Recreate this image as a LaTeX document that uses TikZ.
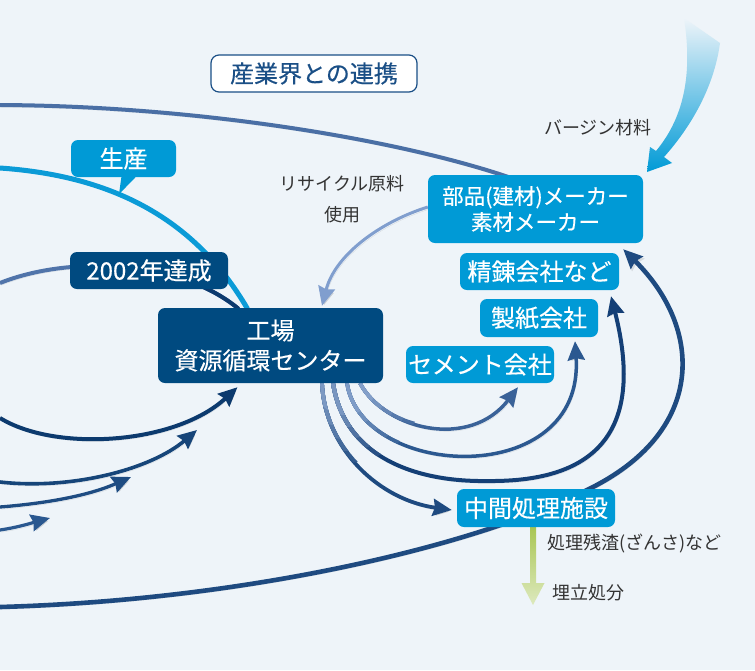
\documentclass[tikz,border=0pt]{standalone}
\usepackage{fontspec}
\setmainfont{Noto Sans CJK JP}
\newfontfamily\bxfont[FakeBold=0.4]{Noto Sans CJK JP}
\usetikzlibrary{arrows.meta,calc}
\pgfdeclarelayer{bg}
\pgfdeclarelayer{lines}
\pgfsetlayers{bg,lines,main}
\definecolor{bgc}{HTML}{EEF4F9}
\definecolor{navyc}{HTML}{004A80}
\definecolor{cyanc}{HTML}{009AD6}
\definecolor{midblue}{HTML}{4A6FA5}
\definecolor{arcblue}{HTML}{5074AA}
\definecolor{lightarr}{HTML}{809ECE}
\definecolor{darkline}{HTML}{0C3A6E}
\definecolor{lineb}{HTML}{164579}
\definecolor{linec}{HTML}{1E4C82}
\definecolor{lined}{HTML}{2A5890}
\definecolor{cemc}{HTML}{3A6298}
\definecolor{seishic}{HTML}{2B5890}
\definecolor{seirenc}{HTML}{143F76}
\definecolor{loopc}{HTML}{1E4A80}
\definecolor{palearc}{HTML}{9BB3D9}
\definecolor{txtc}{HTML}{333333}
\definecolor{linkc}{HTML}{1A4F86}
\definecolor{cyanline}{HTML}{0B9BD7}
\definecolor{greena}{HTML}{A9C653}
\definecolor{greenb}{HTML}{DDE9BE}
\begin{document}
\begin{tikzpicture}[x=1pt,y=-1pt,
  box/.style={rounded corners=7pt, text=white, align=center, inner sep=0pt, font=\bxfont\fontsize{24}{30}\selectfont},
  cbox/.style={box, fill=cyanc},
  nbox/.style={box, fill=navyc},
  lbl/.style={text=txtc, font=\fontsize{18}{31}\selectfont, inner sep=0pt, align=center},
  shd/.style={preaction={draw=black, opacity=0.10, transform canvas={shift={(1.3pt,-2.2pt)}}}},
  tip/.style={-{Stealth[length=19pt,width=17pt,inset=2pt]}},
  flow/.style={line width=#1, tip, shd},
]
\useasboundingbox (0,0) rectangle (755,670);
\begin{pgfonlayer}{bg}
\fill[bgc] (0,0) rectangle (755,670);
\end{pgfonlayer}

% nodes
\node[draw=linkc, line width=1.2pt, fill=white, rounded corners=8pt, minimum width=206pt, minimum height=37pt, text=linkc, font=\bxfont\fontsize{24}{28}\selectfont, inner sep=0pt] (renkei) at (314,73.5) {産業界との連携};
\node[cbox, minimum width=105pt, minimum height=37pt] (seisan) at (123.5,158.5) {生産};
\fill[cyanc] ($(seisan.south)+(-2,-1)$) -- ($(seisan.south)+(13,-1)$) -- ($(seisan.south)+(-4.5,17)$) -- cycle;
\node[nbox, minimum width=158pt, minimum height=37pt] (y2002) at (149,270.5) {2002年達成};
\node[nbox, minimum width=225pt, minimum height=75pt] (center) at (270.5,345.5) {工場\\資源循環センター};
\node[cbox, minimum width=215pt, minimum height=68pt, font=\bxfont\fontsize{21.5}{26}\selectfont] (buhin) at (535.5,209) {部品(建材)メーカー\\素材メーカー};
\node[cbox, minimum width=159pt, minimum height=37pt] (seiren) at (539.5,271.5) {精錬会社など};
\node[cbox, minimum width=118pt, minimum height=38pt] (seishi) at (539,318) {製紙会社};
\node[cbox, minimum width=148pt, minimum height=37pt] (cement) at (480,364.5) {セメント会社};
\node[cbox, minimum width=158pt, minimum height=38pt] (chukan) at (536,508) {中間処理施設};

\node[lbl] (virgin) at (598,128) {バージン材料};
\node[lbl] (recycle) at (342,199.5) {リサイクル原料\\使用};
\node[lbl, anchor=west] (zansa) at (547,543) {処理残渣(ざんさ)など};
\node[lbl, anchor=west] (umetate) at (552,593) {埋立処分};

\begin{pgfonlayer}{lines}
% top long line
\coordinate (t0) at (0,105);
\draw[midblue, line width=4pt, shd] (t0) .. controls (200,106) and (400,140) .. ($(buhin.128)+(2,3)$);
% cyan production line
\coordinate (c0) at (0,168);
\draw[cyanline, line width=5pt, shd] (c0) .. controls (100,175) and (190,210) .. ($(center.north)+(-23,1)$);
% 2002 arc
\coordinate (a0) at (0,283);
\draw[arcblue, line width=4pt, shd] (a0) .. controls (70,255) and (180,260) .. ($(center.north)+(-32,1)$);
\begin{scope}
\clip (150,230) rectangle (262,320);
\draw[darkline, line width=4pt] (a0) .. controls (70,255) and (180,260) .. ($(center.north)+(-32,1)$);
\end{scope}
% left arrows into the centre
\coordinate (la0) at (0,418);
\draw[darkline, flow=4pt] (la0) .. controls (55,452) and (175,445) .. ($(center.south)+(-33,4)$);
\coordinate (lb0) at (0,482);
\coordinate (lb1) at (197,430);
\draw[lineb, flow=3.6pt] (lb0) .. controls (70,490) and (150,470) .. (lb1);
\coordinate (lc0) at (0,507);
\coordinate (lc1) at (131,477);
\draw[linec, flow=3.3pt] (lc0) .. controls (50,503) and (90,495) .. (lc1);
\coordinate (ld0) at (0,530);
\coordinate (ld1) at (50,518);
\draw[lined, flow=3.2pt] (ld0) .. controls (20,527) and (35,522) .. (ld1);
% recycle material arrow
\draw[lightarr, flow=3pt] ($(buhin.west)+(0,-2)$) .. controls (380,222) and (335,255) .. ($(center.north)+(51.5,-2)$);
% arcs from the centre
\draw[cemc, flow=3.5pt] ($(center.south)+(89.5,0)$) .. controls (385,430) and (470,450) .. ($(cement.south)+(38,4)$);
\draw[seishic, flow=3.5pt] ($(center.south)+(76.5,0)$) .. controls (362,480) and (585,490) .. ($(seishi.south)+(36,4)$);
\draw[seirenc, flow=4pt] ($(center.south)+(62.5,0)$) .. controls (345,460) and (420,482) .. (487,481) .. controls (575,482) and (650,450) .. ($(seiren.south)+(71.5,6)$);
\draw[loopc, flow=3.8pt] ($(center.south)+(51.5,0)$) .. controls (325,450) and (380,500) .. ($(chukan.west)+(-5,2)$);
% lighter start of the arcs near the centre (stepped gradient)
\foreach \rr/\pp in {80/15, 68/30, 56/45, 44/60, 32/75} {
  \begin{scope}
  \clip (345,383) circle[radius=\rr pt];
  \draw[palearc!\pp!cemc, line width=3.5pt] ($(center.south)+(89.5,0)$) .. controls (385,430) and (470,450) .. (518,387);
  \draw[palearc!\pp!seishic, line width=3.5pt] ($(center.south)+(76.5,0)$) .. controls (362,480) and (585,490) .. (575,341);
  \draw[palearc!\pp!seirenc, line width=4pt] ($(center.south)+(62.5,0)$) .. controls (345,460) and (420,482) .. (487,481);
  \draw[palearc!\pp!loopc, line width=3.8pt] ($(center.south)+(51.5,0)$) .. controls (325,450) and (380,500) .. (452,510);
  \end{scope}
}
% big loop
\coordinate (bl0) at (0,607);
\draw[loopc, flow=4.6pt] (bl0) .. controls (250,600) and (480,545) .. (593,487) .. controls (706,429) and (703,328) .. ($(buhin.south east)+(-20,6)$);
% virgin material arrow
\shade[top color=bgc, middle color=cyanc!50!bgc, bottom color=cyanc] (684,18) .. controls (692,70) and (686,115) .. (656,151) -- (650,147) -- (647,172) -- (672,163) -- (664,157) .. controls (690,128) and (714,88) .. (720,43) -- cycle;
% landfill arrow
\coordinate (g0) at ($(chukan.south)+(-3,0)$);
\coordinate (g1) at (533,605);
\shade[top color=greena, bottom color=greenb] ($(g0)+(-3,0)$) -- ($(g1)+(-3,-22)$) -- ($(g1)+(-11.5,-22)$) -- (g1) -- ($(g1)+(11.5,-22)$) -- ($(g1)+(3,-22)$) -- ($(g0)+(3,0)$) -- cycle;
\end{pgfonlayer}
\end{tikzpicture}
\end{document}
